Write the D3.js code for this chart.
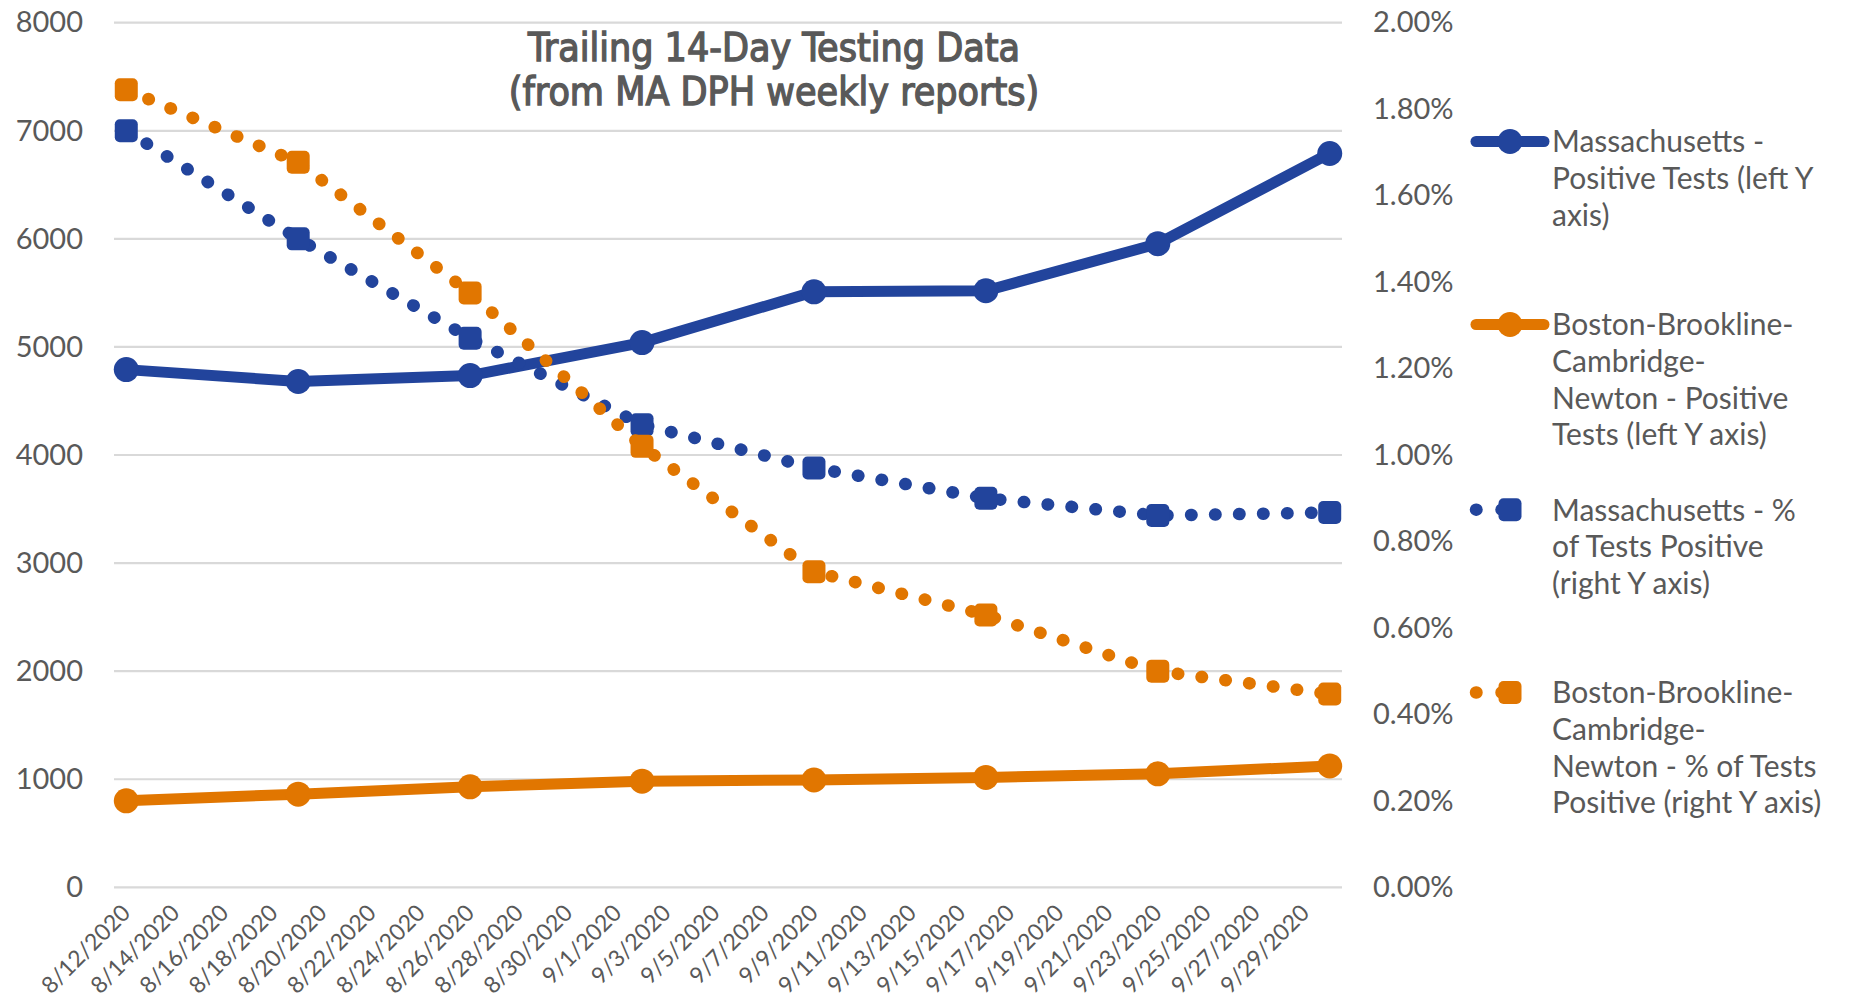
<!DOCTYPE html>
<html>
<head>
<meta charset="utf-8">
<script src="https://cdn.jsdelivr.net/npm/d3@7"></script>
<style>
  html, body { margin: 0; padding: 0; background: #ffffff; }
  svg { display: block; }
</style>
</head>
<body>
<svg id="chart" width="1850" height="999"></svg>
<script>
// ---------------- DATA ----------------
const reportDates = ["8/12/2020","8/19/2020","8/26/2020","9/2/2020","9/9/2020","9/16/2020","9/23/2020","9/30/2020"];
const maPositiveTests = [4790, 4680, 4735, 5040, 5510, 5520, 5955, 6790];
const bbcnPositiveTests = [800, 862, 930, 982, 993, 1017, 1050, 1123];
const maPctPositive = [0.0175, 0.0150, 0.0127, 0.0107, 0.0097, 0.0090, 0.0086, 0.00867];
const bbcnPctPositive = [0.01845, 0.01677, 0.01375, 0.0102, 0.0073, 0.0063, 0.0050, 0.00447];

const xTickLabels = ["8/12/2020","8/14/2020","8/16/2020","8/18/2020","8/20/2020","8/22/2020","8/24/2020","8/26/2020","8/28/2020","8/30/2020","9/1/2020","9/3/2020","9/5/2020","9/7/2020","9/9/2020","9/11/2020","9/13/2020","9/15/2020","9/17/2020","9/19/2020","9/21/2020","9/23/2020","9/25/2020","9/27/2020","9/29/2020"];
const leftTicks = [0, 1000, 2000, 3000, 4000, 5000, 6000, 7000, 8000];
const rightTicks = [0, 0.002, 0.004, 0.006, 0.008, 0.010, 0.012, 0.014, 0.016, 0.018, 0.020];
const axisStart = "8/12/2020";
const axisEnd = "10/1/2020";

const titleLines = ["Trailing 14-Day Testing Data", "(from MA DPH weekly reports)"];
const legendItems = [
  { lines: ["Massachusetts -", "Positive Tests (left Y", "axis)"], color: "#22449C", kind: "solid" },
  { lines: ["Boston-Brookline-", "Cambridge-", "Newton - Positive", "Tests (left Y axis)"], color: "#E17600", kind: "solid" },
  { lines: ["Massachusetts - %", "of Tests Positive", "(right Y axis)"], color: "#22449C", kind: "dotted" },
  { lines: ["Boston-Brookline-", "Cambridge-", "Newton - % of Tests", "Positive (right Y axis)"], color: "#E17600", kind: "dotted" }
];

// ---------------- LAYOUT ----------------
const BLUE = "#22449C", ORANGE = "#E17600", TEXT = "#595959", GRID = "#D9D9D9";
const plot = { left: 114, right: 1342, top: 22.7, bottom: 887.3 };
const parse = d3.timeParse("%m/%d/%Y");
const halfDay = 12 * 3600 * 1000;

const svg = d3.select("#chart");
svg.append("rect").attr("width", 1850).attr("height", 999).attr("fill", "#fff");

const x = d3.scaleTime().domain([parse(axisStart), parse(axisEnd)]).range([plot.left, plot.right]);
const xc = s => x(new Date(parse(s).getTime() + halfDay));
const yL = d3.scaleLinear().domain([0, 8000]).range([plot.bottom, plot.top]);
const yR = d3.scaleLinear().domain([0, 0.02]).range([plot.bottom, plot.top]);

// gridlines
svg.append("g").selectAll("line").data(leftTicks).join("line")
  .attr("x1", plot.left).attr("x2", plot.right)
  .attr("y1", d => yL(d)).attr("y2", d => yL(d))
  .attr("stroke", GRID).attr("stroke-width", 2.2);

// left axis
const axL = svg.append("g").attr("transform", `translate(${plot.left},0)`)
  .call(d3.axisLeft(yL).tickValues(leftTicks).tickFormat(d3.format("d")).tickSize(0).tickPadding(31));
axL.select(".domain").remove();
axL.selectAll("text").attr("fill", TEXT).style("font-family", "Lato, 'Open Sans', sans-serif").style("font-size", "29px");

// right axis
const axR = svg.append("g").attr("transform", `translate(${plot.right},0)`)
  .call(d3.axisRight(yR).tickValues(rightTicks).tickFormat(d3.format(".2%")).tickSize(0).tickPadding(31));
axR.select(".domain").remove();
axR.selectAll("text").attr("fill", TEXT).style("font-family", "Lato, 'Open Sans', sans-serif").style("font-size", "29px");

// bottom axis labels (rotated)
const axB = svg.append("g").attr("transform", `translate(0,${plot.bottom})`)
  .call(d3.axisBottom(x).tickValues(xTickLabels.map(s => new Date(parse(s).getTime() + halfDay)))
    .tickFormat((d, i) => xTickLabels[i]).tickSize(0));
axB.select(".domain").remove();
axB.selectAll("text")
  .attr("fill", TEXT)
  .style("font-family", "Lato, 'Open Sans', sans-serif").style("font-size", "23px")
  .attr("text-anchor", "end")
  .attr("dy", null).attr("y", 0)
  .attr("transform", "translate(5,27) rotate(-45)");

// ---------------- SERIES ----------------
const lineL = d3.line().x((d, i) => xc(reportDates[i])).y(d => yL(d));
const lineR = d3.line().x((d, i) => xc(reportDates[i])).y(d => yR(d));

function solidSeries(vals, color) {
  const g = svg.append("g");
  g.append("path").attr("d", lineL(vals)).attr("fill", "none")
    .attr("stroke", color).attr("stroke-width", 11).attr("stroke-linejoin", "round").attr("stroke-linecap", "round");
  g.selectAll("circle").data(vals).join("circle")
    .attr("cx", (d, i) => xc(reportDates[i])).attr("cy", d => yL(d)).attr("r", 12.5).attr("fill", color);
}
function dottedSeries(vals, color) {
  const g = svg.append("g");
  g.append("path").attr("d", lineR(vals)).attr("fill", "none")
    .attr("stroke", color).attr("stroke-width", 12.5).attr("stroke-linecap", "round")
    .attr("stroke-dasharray", "0.5 23.5");
  const s = 23;
  g.selectAll("rect").data(vals).join("rect")
    .attr("x", (d, i) => xc(reportDates[i]) - s / 2).attr("y", d => yR(d) - s / 2)
    .attr("width", s).attr("height", s).attr("rx", 5).attr("fill", color);
}
solidSeries(maPositiveTests, BLUE);
solidSeries(bbcnPositiveTests, ORANGE);
dottedSeries(maPctPositive, BLUE);
dottedSeries(bbcnPctPositive, ORANGE);

// ---------------- TITLE ----------------
svg.append("g").selectAll("text").data(titleLines).join("text")
  .attr("x", 774).attr("y", (d, i) => 61 + i * 44)
  .attr("text-anchor", "middle")
  .attr("fill", TEXT)
  .attr("stroke", TEXT).attr("stroke-width", 1.3)
  .style("font-family", "'Liberation Sans Narrow', 'DejaVu Sans Condensed', sans-serif")
  .style("font-weight", "normal").style("font-size", "39px")
  .text(d => d);

// ---------------- LEGEND ----------------
const legendTop = [141.5, 324.5, 509.7, 692.5];
const lineGap = 36.6;
const lg = svg.append("g");
legendItems.forEach((item, k) => {
  const cy = legendTop[k];
  const g = lg.append("g");
  if (item.kind === "solid") {
    g.append("line").attr("x1", 1476).attr("x2", 1544).attr("y1", cy).attr("y2", cy)
      .attr("stroke", item.color).attr("stroke-width", 11).attr("stroke-linecap", "round");
    g.append("circle").attr("cx", 1510).attr("cy", cy).attr("r", 12.5).attr("fill", item.color);
  } else {
    g.append("line").attr("x1", 1476).attr("x2", 1527).attr("y1", cy).attr("y2", cy)
      .attr("stroke", item.color).attr("stroke-width", 12.5).attr("stroke-linecap", "round")
      .attr("stroke-dasharray", "0.5 25");
    g.append("rect").attr("x", 1510 - 11.5).attr("y", cy - 11.5).attr("width", 23).attr("height", 23)
      .attr("rx", 5).attr("fill", item.color);
  }
  g.selectAll("text").data(item.lines).join("text")
    .attr("x", 1552).attr("y", (d, i) => cy + i * lineGap).attr("dy", "0.36em")
    .attr("fill", TEXT)
    .style("font-family", "Lato, 'Open Sans', sans-serif").style("font-size", "30px")
    .text(d => d);
});
</script>
</body>
</html>
